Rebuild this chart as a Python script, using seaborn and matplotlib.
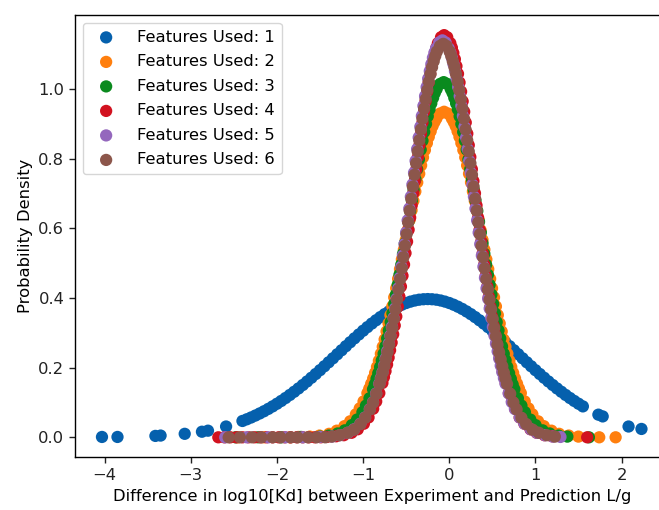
import matplotlib
matplotlib.use("Agg")
import matplotlib.pyplot as plt
import seaborn as sns
import pandas as pd

# ---- data: probability density evaluated at each prediction error ----
series_labels = ["Features Used: 1", "Features Used: 2", "Features Used: 3",
                 "Features Used: 4", "Features Used: 5", "Features Used: 6"]

feat1_x = [-4.03, -3.85, -3.41, -3.35, -3.07, -2.87, -2.80, -2.59,
           -2.40, -2.35, -2.30, -2.25, -2.20, -2.15, -2.10, -2.05, -2.00, -1.95,
           -1.90, -1.85, -1.80, -1.75, -1.70, -1.65, -1.60, -1.55, -1.50, -1.45,
           -1.40, -1.35, -1.30, -1.25, -1.20, -1.15, -1.10, -1.05, -1.00, -0.95,
           -0.90, -0.85, -0.80, -0.75, -0.70, -0.65, -0.60, -0.55, -0.50, -0.45,
           -0.40, -0.35, -0.30, -0.25, -0.20, -0.15, -0.10, -0.05, 0.00, 0.05,
           0.10, 0.15, 0.20, 0.25, 0.30, 0.35, 0.40, 0.45, 0.50, 0.55,
           0.60, 0.65, 0.70, 0.75, 0.80, 0.85, 0.90, 0.95, 1.00, 1.05,
           1.10, 1.15, 1.20, 1.25, 1.30, 1.35, 1.40, 1.45, 1.50, 1.55,
           1.73, 1.78, 2.08, 2.23]
feat1_y = [0.001, 0.001, 0.004, 0.005, 0.010, 0.016, 0.019, 0.031,
           0.0469, 0.0517, 0.0569, 0.0625, 0.0685, 0.0748, 0.0816, 0.0888, 0.0964, 0.1044,
           0.1128, 0.1216, 0.1308, 0.1403, 0.1502, 0.1604, 0.1710, 0.1818, 0.1928, 0.2040,
           0.2154, 0.2269, 0.2385, 0.2500, 0.2616, 0.2730, 0.2843, 0.2953, 0.3061, 0.3165,
           0.3266, 0.3361, 0.3452, 0.3537, 0.3615, 0.3687, 0.3751, 0.3808, 0.3857, 0.3897,
           0.3929, 0.3952, 0.3965, 0.3970, 0.3965, 0.3952, 0.3929, 0.3897, 0.3857, 0.3808,
           0.3751, 0.3687, 0.3615, 0.3537, 0.3452, 0.3361, 0.3266, 0.3165, 0.3061, 0.2953,
           0.2843, 0.2730, 0.2616, 0.2500, 0.2385, 0.2269, 0.2154, 0.2040, 0.1928, 0.1818,
           0.1710, 0.1604, 0.1502, 0.1403, 0.1308, 0.1216, 0.1128, 0.1044, 0.0964, 0.0888,
           0.065, 0.060, 0.031, 0.024]

feat2_x = [-0.060, -0.105, -0.149, -0.171, -0.194, -0.216, -0.238, -0.260, -0.283, -0.305,
           -0.327, -0.349, -0.372, -0.394, -0.416, -0.438, -0.461, -0.483, -0.505, -0.527,
           -0.550, -0.572, -0.594, -0.616, -0.639, -0.661, -0.683, -0.705, -0.728, -0.750,
           -0.772, -0.794, -0.817, -0.839, -0.861, -0.883, -0.906, -0.928, -0.950, -0.995,
           -1.039, -1.084, -1.150, -1.217, -1.306, -1.395, -1.506, -1.618,
           -0.016, 0.029, 0.051, 0.074, 0.096, 0.118, 0.140, 0.163, 0.185, 0.207,
           0.229, 0.252, 0.274, 0.296, 0.318, 0.341, 0.363, 0.385, 0.407, 0.430,
           0.452, 0.474, 0.496, 0.519, 0.541, 0.563, 0.585, 0.608, 0.630, 0.652,
           0.674, 0.697, 0.719, 0.741, 0.763, 0.786, 0.808, 0.830, 0.875, 0.919,
           0.964, 1.030, 1.097, 1.186, 1.275, 1.386, 1.498,
           -2.45, -2.15, -1.85, -1.75, 1.74, 1.93]
feat2_y = [0.935, 0.930, 0.916, 0.906, 0.894, 0.879, 0.863, 0.845, 0.825, 0.804,
           0.781, 0.757, 0.732, 0.706, 0.679, 0.652, 0.624, 0.595, 0.567, 0.539,
           0.511, 0.483, 0.455, 0.428, 0.402, 0.376, 0.351, 0.327, 0.304, 0.281,
           0.260, 0.240, 0.220, 0.202, 0.185, 0.169, 0.154, 0.140, 0.127, 0.103,
           0.083, 0.066, 0.046, 0.032, 0.019, 0.010, 0.005, 0.002,
           0.930, 0.916, 0.906, 0.894, 0.879, 0.863, 0.845, 0.825, 0.804, 0.781,
           0.757, 0.732, 0.706, 0.679, 0.652, 0.624, 0.595, 0.567, 0.539, 0.511,
           0.483, 0.455, 0.428, 0.402, 0.376, 0.351, 0.327, 0.304, 0.281, 0.260,
           0.240, 0.220, 0.202, 0.185, 0.169, 0.154, 0.140, 0.127, 0.103, 0.083,
           0.066, 0.046, 0.032, 0.019, 0.010, 0.005, 0.002,
           0.000, 0.000, 0.000, 0.001, 0.000, 0.000]

feat3_x = [-0.065, -0.106, -0.147, -0.168, -0.188, -0.209, -0.229, -0.250, -0.270, -0.291,
           -0.311, -0.332, -0.352, -0.373, -0.393, -0.414, -0.434, -0.455, -0.475, -0.496,
           -0.516, -0.537, -0.557, -0.578, -0.598, -0.619, -0.639, -0.660, -0.680, -0.701,
           -0.721, -0.742, -0.762, -0.783, -0.803, -0.824, -0.844, -0.865, -0.885, -0.926,
           -0.967, -1.008, -1.070, -1.131, -1.213, -1.295, -1.398, -1.500,
           -0.024, 0.017, 0.038, 0.058, 0.079, 0.099, 0.120, 0.140, 0.161, 0.181,
           0.202, 0.222, 0.243, 0.263, 0.284, 0.304, 0.325, 0.345, 0.366, 0.386,
           0.407, 0.427, 0.448, 0.468, 0.489, 0.509, 0.530, 0.550, 0.571, 0.591,
           0.612, 0.632, 0.653, 0.673, 0.694, 0.714, 0.735, 0.755, 0.796, 0.837,
           0.878, 0.940, 1.001, 1.083, 1.165, 1.268, 1.370,
           -2.48, -2.22, -1.95, -1.72, 1.62]
feat3_y = [1.020, 1.015, 1.000, 0.989, 0.975, 0.959, 0.942, 0.922, 0.900, 0.877,
           0.852, 0.826, 0.798, 0.770, 0.741, 0.711, 0.680, 0.650, 0.619, 0.588,
           0.557, 0.527, 0.496, 0.467, 0.438, 0.410, 0.383, 0.356, 0.331, 0.307,
           0.284, 0.261, 0.240, 0.221, 0.202, 0.184, 0.168, 0.152, 0.138, 0.112,
           0.091, 0.072, 0.051, 0.035, 0.020, 0.011, 0.005, 0.002,
           1.015, 1.000, 0.989, 0.975, 0.959, 0.942, 0.922, 0.900, 0.877, 0.852,
           0.826, 0.798, 0.770, 0.741, 0.711, 0.680, 0.650, 0.619, 0.588, 0.557,
           0.527, 0.496, 0.467, 0.438, 0.410, 0.383, 0.356, 0.331, 0.307, 0.284,
           0.261, 0.240, 0.221, 0.202, 0.184, 0.168, 0.152, 0.138, 0.112, 0.091,
           0.072, 0.051, 0.035, 0.020, 0.011, 0.005, 0.002,
           0.000, 0.000, 0.000, 0.001, 0.000]

feat4_x = [-0.060, -0.096, -0.132, -0.150, -0.167, -0.185, -0.203, -0.221, -0.239, -0.257,
           -0.275, -0.293, -0.311, -0.329, -0.346, -0.364, -0.382, -0.400, -0.418, -0.436,
           -0.454, -0.472, -0.490, -0.508, -0.525, -0.543, -0.561, -0.579, -0.597, -0.615,
           -0.633, -0.651, -0.669, -0.687, -0.704, -0.722, -0.740, -0.758, -0.776, -0.812,
           -0.848, -0.883, -0.937, -0.991, -1.062, -1.134, -1.224, -1.313,
           -0.024, 0.012, 0.030, 0.047, 0.065, 0.083, 0.101, 0.119, 0.137, 0.155,
           0.173, 0.191, 0.209, 0.226, 0.244, 0.262, 0.280, 0.298, 0.316, 0.334,
           0.352, 0.370, 0.388, 0.405, 0.423, 0.441, 0.459, 0.477, 0.495, 0.513,
           0.531, 0.549, 0.567, 0.584, 0.602, 0.620, 0.638, 0.656, 0.692, 0.728,
           0.763, 0.817, 0.871, 0.942, 1.014, 1.104, 1.193,
           -2.68, -2.61, -2.54, -2.47, -2.40, -2.33, -2.26, -2.19, -2.12, -2.05,
           -1.98, -1.91, -1.84, -1.77, -1.70, -1.63, -1.56, -1.49, -1.42, 1.60]
feat4_y = [1.155, 1.149, 1.132, 1.119, 1.104, 1.086, 1.066, 1.044, 1.019, 0.993,
           0.965, 0.935, 0.904, 0.872, 0.839, 0.805, 0.770, 0.736, 0.701, 0.666,
           0.631, 0.596, 0.562, 0.529, 0.496, 0.464, 0.433, 0.404, 0.375, 0.347,
           0.321, 0.296, 0.272, 0.250, 0.229, 0.209, 0.190, 0.173, 0.156, 0.127,
           0.103, 0.082, 0.057, 0.039, 0.023, 0.013, 0.006, 0.003,
           1.149, 1.132, 1.119, 1.104, 1.086, 1.066, 1.044, 1.019, 0.993, 0.965,
           0.935, 0.904, 0.872, 0.839, 0.805, 0.770, 0.736, 0.701, 0.666, 0.631,
           0.596, 0.562, 0.529, 0.496, 0.464, 0.433, 0.404, 0.375, 0.347, 0.321,
           0.296, 0.272, 0.250, 0.229, 0.209, 0.190, 0.173, 0.156, 0.127, 0.103,
           0.082, 0.057, 0.039, 0.023, 0.013, 0.006, 0.003,
           0.000, 0.000, 0.000, 0.000, 0.000, 0.000, 0.000, 0.000, 0.000, 0.000,
           0.000, 0.000, 0.000, 0.000, 0.000, 0.000, 0.000, 0.000, 0.001, 0.000]

feat5_x = [-0.080, -0.117, -0.153, -0.172, -0.190, -0.208, -0.226, -0.245, -0.263, -0.281,
           -0.300, -0.318, -0.336, -0.355, -0.373, -0.391, -0.409, -0.428, -0.446, -0.464,
           -0.483, -0.501, -0.519, -0.538, -0.556, -0.574, -0.592, -0.611, -0.629, -0.647,
           -0.666, -0.684, -0.702, -0.721, -0.739, -0.757, -0.775, -0.794, -0.812, -0.849,
           -0.885, -0.922, -0.977, -1.032, -1.105, -1.178, -1.270, -1.361,
           -0.043, -0.007, 0.012, 0.030, 0.048, 0.066, 0.085, 0.103, 0.121, 0.140,
           0.158, 0.176, 0.195, 0.213, 0.231, 0.249, 0.268, 0.286, 0.304, 0.323,
           0.341, 0.359, 0.378, 0.396, 0.414, 0.432, 0.451, 0.469, 0.487, 0.506,
           0.524, 0.542, 0.561, 0.579, 0.597, 0.615, 0.634, 0.652, 0.689, 0.725,
           0.762, 0.817, 0.872, 0.945, 1.018, 1.110, 1.201,
           -2.60, -2.35, -2.10, -1.90, -1.70, -1.50, 1.29]
feat5_y = [1.140, 1.134, 1.117, 1.105, 1.090, 1.072, 1.052, 1.030, 1.006, 0.980,
           0.952, 0.923, 0.892, 0.861, 0.828, 0.794, 0.760, 0.726, 0.691, 0.657,
           0.623, 0.588, 0.555, 0.522, 0.490, 0.458, 0.428, 0.398, 0.370, 0.343,
           0.317, 0.292, 0.269, 0.247, 0.226, 0.206, 0.187, 0.170, 0.154, 0.126,
           0.101, 0.081, 0.057, 0.039, 0.023, 0.013, 0.006, 0.002,
           1.134, 1.117, 1.105, 1.090, 1.072, 1.052, 1.030, 1.006, 0.980, 0.952,
           0.923, 0.892, 0.861, 0.828, 0.794, 0.760, 0.726, 0.691, 0.657, 0.623,
           0.588, 0.555, 0.522, 0.490, 0.458, 0.428, 0.398, 0.370, 0.343, 0.317,
           0.292, 0.269, 0.247, 0.226, 0.206, 0.187, 0.170, 0.154, 0.126, 0.101,
           0.081, 0.057, 0.039, 0.023, 0.013, 0.006, 0.002,
           0.000, 0.000, 0.000, 0.000, 0.000, 0.001, 0.001]

feat6_x = [-0.070, -0.107, -0.144, -0.163, -0.181, -0.200, -0.218, -0.237, -0.255, -0.274,
           -0.292, -0.311, -0.329, -0.348, -0.366, -0.385, -0.403, -0.422, -0.440, -0.459,
           -0.477, -0.496, -0.514, -0.533, -0.551, -0.570, -0.588, -0.607, -0.625, -0.644,
           -0.662, -0.681, -0.699, -0.718, -0.736, -0.755, -0.773, -0.792, -0.810, -0.847,
           -0.884, -0.921, -0.977, -1.032, -1.106, -1.180, -1.273, -1.365,
           -0.033, 0.004, 0.023, 0.041, 0.060, 0.078, 0.097, 0.115, 0.134, 0.152,
           0.171, 0.189, 0.208, 0.226, 0.245, 0.263, 0.282, 0.300, 0.319, 0.337,
           0.356, 0.374, 0.393, 0.411, 0.430, 0.448, 0.467, 0.485, 0.504, 0.522,
           0.541, 0.559, 0.578, 0.596, 0.615, 0.633, 0.652, 0.670, 0.707, 0.744,
           0.781, 0.837, 0.892, 0.966, 1.040, 1.133, 1.225,
           -2.56, -2.43, -2.29, -2.18, -2.05, -1.96, -1.84, -1.76, -1.64, -1.54, -1.44]
feat6_y = [1.130, 1.124, 1.108, 1.095, 1.080, 1.063, 1.043, 1.021, 0.997, 0.971,
           0.944, 0.915, 0.884, 0.853, 0.821, 0.787, 0.754, 0.720, 0.685, 0.651,
           0.617, 0.583, 0.550, 0.517, 0.485, 0.454, 0.424, 0.395, 0.367, 0.340,
           0.314, 0.290, 0.266, 0.244, 0.224, 0.204, 0.186, 0.169, 0.153, 0.125,
           0.100, 0.080, 0.056, 0.038, 0.022, 0.013, 0.006, 0.002,
           1.124, 1.108, 1.095, 1.080, 1.063, 1.043, 1.021, 0.997, 0.971, 0.944,
           0.915, 0.884, 0.853, 0.821, 0.787, 0.754, 0.720, 0.685, 0.651, 0.617,
           0.583, 0.550, 0.517, 0.485, 0.454, 0.424, 0.395, 0.367, 0.340, 0.314,
           0.290, 0.266, 0.244, 0.224, 0.204, 0.186, 0.169, 0.153, 0.125, 0.100,
           0.080, 0.056, 0.038, 0.022, 0.013, 0.006, 0.002,
           0.000, 0.000, 0.000, 0.000, 0.000, 0.000, 0.000, 0.000, 0.000, 0.000, 0.000]

x_ticks = [-4, -3, -2, -1, 0, 1, 2]
y_ticks = [0.0, 0.2, 0.4, 0.6, 0.8, 1.0]

# ---- styling ----
series_colors = ["#0560ad", "#ff7f0e", "#0a8a1e", "#d2121f", "#9467bd", "#8c564b"]
FS = 11.8

plt.rcParams.update({
    "font.family": ["DejaVu Sans"],
    "font.size": FS,
    "axes.linewidth": 1.0,
    "xtick.major.size": 4.2,
    "ytick.major.size": 4.2,
    "xtick.major.width": 1.0,
    "ytick.major.width": 1.0,
})

W, H = 659.0, 510.0
fig = plt.figure(figsize=(6.5905, 5.1005), dpi=100)
ax = fig.add_axes([75 / W, 1 - 457.5 / H, (669 - 75) / W, (457.5 - 15) / H])

all_series = [(feat1_x, feat1_y), (feat2_x, feat2_y), (feat3_x, feat3_y),
              (feat4_x, feat4_y), (feat5_x, feat5_y), (feat6_x, feat6_y)]

for (xs, ys), lab, col in zip(all_series, series_labels, series_colors):
    df = pd.DataFrame({"error": xs, "density": ys})
    sns.scatterplot(data=df, x="error", y="density", color=col, s=78,
                    linewidth=0, edgecolor="none", label=lab, ax=ax)

ax.set_xlim(-4.343, 2.55)
ax.set_ylim(-0.058, 1.213)
ax.set_xticks(x_ticks)
ax.set_xticklabels(["\u22124", "\u22123", "\u22122", "\u22121", "0", "1", "2"])
ax.set_yticks(y_ticks)
ax.set_yticklabels([f"{v:.1f}" for v in y_ticks])
ax.tick_params(labelsize=FS, colors="#222222")
ax.spines["right"].set_visible(False)

ax.set_xlabel("Difference in log10[Kd] between Experiment and Prediction L/g", fontsize=FS)
ax.set_ylabel("Probability Density", fontsize=FS)

ax.legend(loc="upper left", fontsize=FS, frameon=True, labelspacing=0.58,
          handletextpad=0.9, borderpad=0.4)

fig.savefig("out.png", dpi=100)
